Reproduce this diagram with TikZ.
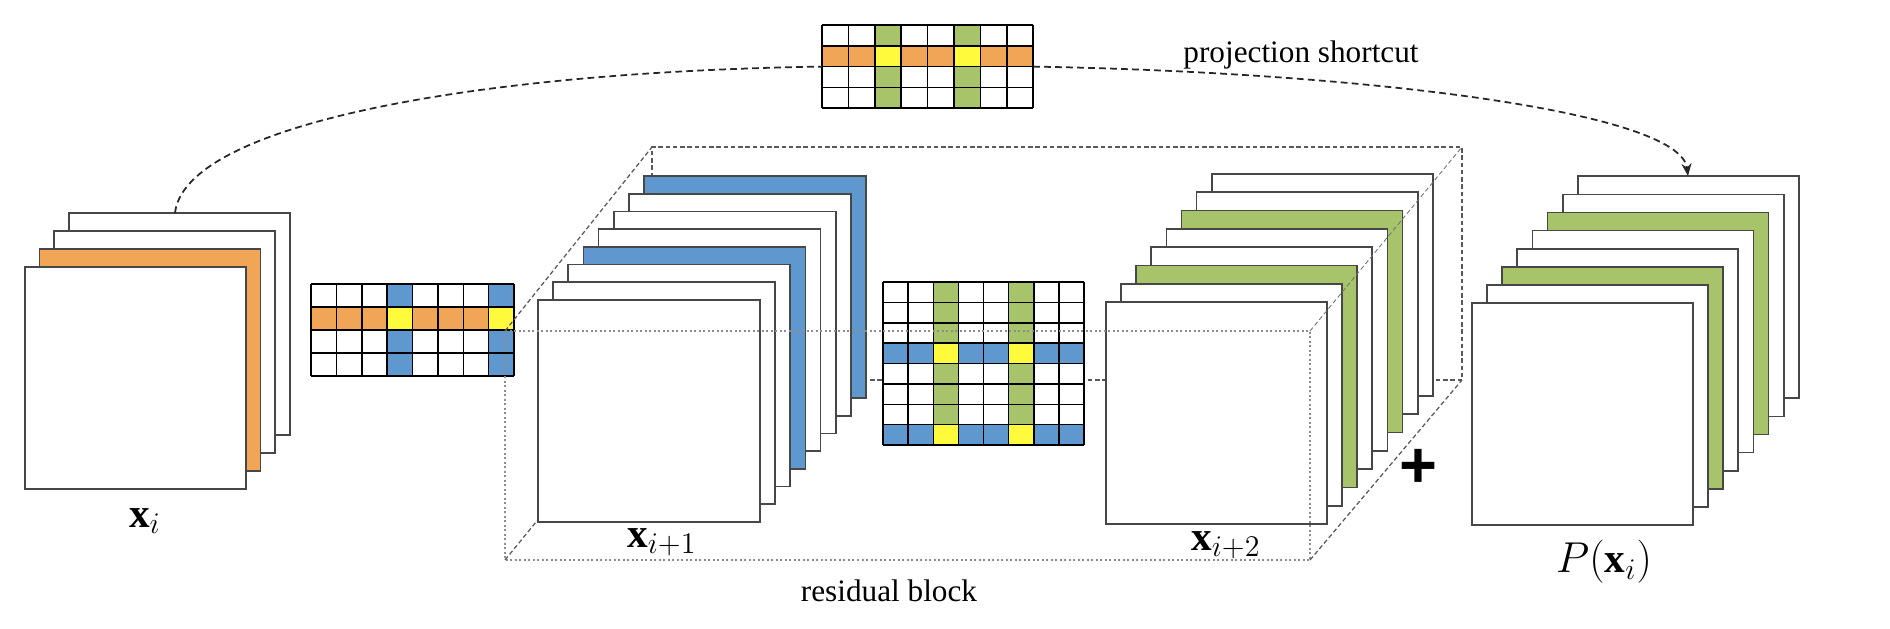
\documentclass[tikz,border=0pt]{standalone}
\usepackage{fontspec}
\setmainfont{Liberation Serif}
\newfontfamily\serifrm{Liberation Serif}
\newfontfamily\plusfont{Liberation Sans}
\usetikzlibrary{arrows.meta}
\definecolor{orangeF}{HTML}{F1A557}
\definecolor{blueF}{HTML}{5F97CF}
\definecolor{greenF}{HTML}{A8C46A}
\definecolor{yellowF}{HTML}{FFFA3C}
\begin{document}
\begin{tikzpicture}[x=0.4pt,y=-0.4pt,
  sheet/.style={draw=black!72, line width=0.7pt},
  gridline/.style={draw=black, line width=0.6pt},
  shortcut/.style={draw=black!85, line width=0.7pt, dash pattern=on 2.7pt off 1.7pt},
  backdash/.style={draw=black!65, line width=0.5pt, dash pattern=on 1.8pt off 1.1pt},
  frontdot/.style={draw=black!45, line width=0.45pt, dash pattern=on 0.8pt off 1pt},
  thindash/.style={draw=black!55, line width=0.35pt, dash pattern=on 1.8pt off 1.1pt},
  mathlbl/.style={inner sep=0pt, font=\fontsize{16.5}{19}\selectfont},
  txtlbl/.style={inner sep=0pt, font=\serifrm\fontsize{12.5}{14}\selectfont}]
\useasboundingbox (0,0) rectangle (1890,628);

% ---------- residual block: back edges (behind everything) ----------
\coordinate (FTL) at (505,331);
\coordinate (FTR) at (1310,331);
\coordinate (FBR) at (1310,560);
\coordinate (FBL) at (505,560);
\coordinate (BTL) at (652,147);
\coordinate (BTR) at (1462,147);
\coordinate (BBR) at (1462,380);
\coordinate (BBL) at (652,380);
\draw[backdash] (BBL) -- (BTL) -- (BTR) -- (BBR) -- cycle;
\draw[backdash] (FBL) -- (BBL);

% ---------- left stack x_i ----------
\foreach \i/\c in {3/white,2/white,1/orangeF,0/white}
  \draw[sheet, fill=\c] ({25+14.6*\i},{267-18*\i}) rectangle ++(221,222);
\coordinate (xiTop) at (175,213);

% ---------- stack x_{i+1} ----------
\foreach \i/\c in {7/blueF,6/white,5/white,4/white,3/blueF,2/white,1/white,0/white}
  \draw[sheet, fill=\c] ({538+15.15*\i},{300-17.7*\i}) rectangle ++(222,222);

% ---------- stack x_{i+2} ----------
\foreach \i/\c in {7/white,6/white,5/greenF,4/white,3/white,2/greenF,1/white,0/white}
  \draw[sheet, fill=\c] ({1106+15.1*\i},{302-18.3*\i}) rectangle ++(221,222);

% ---------- stack P(x_i) ----------
\foreach \i/\c in {7/white,6/white,5/greenF,4/white,3/white,2/greenF,1/white,0/white}
  \draw[sheet, fill=\c] ({1472+15.1*\i},{303-18.1*\i}) rectangle ++(221,222);
\coordinate (PTop) at (1688,176);

% ---------- top grid (projection) ----------
\begin{scope}[shift={(822,25)}, x=10.56pt, y=-8.32pt]
  \fill[white] (0,0) rectangle (8,4);
  \fill[orangeF] (0,1) rectangle (8,2);
  \fill[greenF] (2,0) rectangle (3,4);
  \fill[greenF] (5,0) rectangle (6,4);
  \fill[yellowF] (2,1) rectangle (3,2);
  \fill[yellowF] (5,1) rectangle (6,2);
  \foreach \k in {0,...,8} \draw[gridline] (\k,0) -- (\k,4);
  \foreach \k in {0,...,4} \draw[gridline] (0,\k) -- (8,\k);
  \coordinate (tgW) at (0,2);
  \coordinate (tgE) at (8,2);
\end{scope}

% ---------- left grid ----------
\begin{scope}[shift={(311,284)}, x=10.15pt, y=-9.2pt]
  \fill[white] (0,0) rectangle (8,4);
  \fill[orangeF] (0,1) rectangle (8,2);
  \fill[blueF] (3,0) rectangle (4,4);
  \fill[blueF] (7,0) rectangle (8,4);
  \fill[yellowF] (3,1) rectangle (4,2);
  \fill[yellowF] (7,1) rectangle (8,2);
  \foreach \k in {0,...,8} \draw[gridline] (\k,0) -- (\k,4);
  \foreach \k in {0,...,4} \draw[gridline] (0,\k) -- (8,\k);
\end{scope}

% ---------- middle grid ----------
\begin{scope}[shift={(883,282)}, x=10.05pt, y=-8.15pt]
  \fill[white] (0,0) rectangle (8,8);
  \fill[blueF] (0,3) rectangle (8,4);
  \fill[blueF] (0,7) rectangle (8,8);
  \fill[greenF] (2,0) rectangle (3,8);
  \fill[greenF] (5,0) rectangle (6,8);
  \foreach \r in {3,7} {
    \fill[yellowF] (2,\r) rectangle (3,\r+1);
    \fill[yellowF] (5,\r) rectangle (6,\r+1);
  }
  \foreach \k in {0,...,8} \draw[gridline] (\k,0) -- (\k,8);
  \foreach \k in {0,...,8} \draw[gridline] (0,\k) -- (8,\k);
\end{scope}

% ---------- residual block: front edges (on top) ----------
\draw[frontdot] (FTL) -- (FTR) -- (FBR) -- (FBL) -- cycle;
\draw[backdash] (FTL) -- (BTL);
\draw[thindash] (FTR) -- (BTR);
\draw[backdash] (FBR) -- (BBR);

% ---------- projection shortcut ----------
\draw[shortcut] (xiTop) .. controls (185,125) and (470,72) .. (tgW);
\draw[shortcut, -{Stealth[length=5pt,width=4pt]}] (tgE) .. controls (1350,72) and (1680,110) .. (PTop);

% ---------- labels ----------
\node[mathlbl] (lxi)  at (145,521) {$\mathbf{x}_i$};
\node[mathlbl] (lxi1) at (662,542) {$\mathbf{x}_{i+1}$};
\node[mathlbl] (lxi2) at (1226,545) {$\mathbf{x}_{i+2}$};
\node[mathlbl] (lP)   at (1604,562) {$P(\mathbf{x}_i)$};
\node[txtlbl] (lres)  at (889,591) {residual block};
\node[txtlbl] (lproj) at (1301,55) {projection shortcut};
\node[inner sep=0pt, font=\plusfont\bfseries\fontsize{26}{28}\selectfont] (plus) at (1418,468) {+};
\end{tikzpicture}
\end{document}
